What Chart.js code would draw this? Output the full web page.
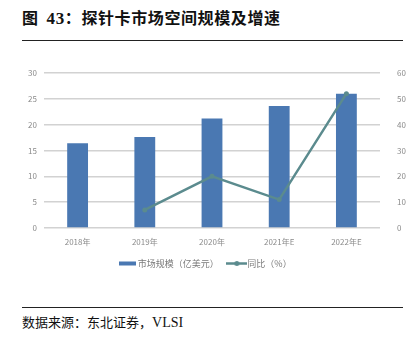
<!DOCTYPE html>
<html>
<head>
<meta charset="utf-8">
<script src="https://cdn.jsdelivr.net/npm/chart.js@4/dist/chart.umd.min.js"></script>
<style>
  html, body { margin: 0; padding: 0; background: #fff; }
  body { width: 413px; height: 340px; position: relative; overflow: hidden; }
  .title {
    position: absolute; left: 22px; top: 6px;
    font-family: "Noto Sans CJK SC", sans-serif; font-weight: bold;
    font-size: 16px; letter-spacing: 0.6px; color: #111; white-space: nowrap; line-height: 22px;
  }
  .title .num { font-family: "Liberation Serif", serif; font-weight: bold; font-size: 17px; margin-left: 8px; }
  .rule { position: absolute; left: 22px; width: 381px; height: 1px; background: #222; }
  .source {
    position: absolute; left: 22px; top: 313px;
    font-family: "Noto Sans CJK SC", sans-serif; font-size: 13px; color: #111;
    white-space: nowrap; line-height: 18px;
  }
  .source .lat { font-family: "Liberation Serif", serif; font-size: 14px; }
  #wrap { position: absolute; left: 0; top: 50px; width: 413px; height: 234px; }
</style>
</head>
<body>
<div class="title">图<span class="num">43</span>：探针卡市场空间规模及增速</div>
<div class="rule" style="top:40px"></div>
<div id="wrap"><canvas id="chart"></canvas></div>
<div class="rule" style="top:307px"></div>
<div class="source">数据来源：东北证券，<span class="lat">VLSI</span></div>

<script>
// Years on the category axis
const years = ['2018年', '2019年', '2020年', '2021年E', '2022年E'];
// Probe card market size, USD 100 million (left axis)
const marketSize = [16.4, 17.6, 21.2, 23.6, 26.0];
// Year-on-year growth, % (right axis); no value for the first year
const growthPct = [null, 7, 20, 11, 52];

const seriesNames = ['市场规模（亿美元）', '同比（%）'];
const barColor = '#4a78b2';
const lineColor = '#5b8b8e';
const tickColor = '#8a8a8a';
const gridColor = '#d2d2d2';
const labelFont = { family: '"Noto Sans CJK SC", sans-serif', size: 8 };

// Small legend swatches: a flat bar and a line with a dot
function barSwatch() {
  const c = document.createElement('canvas');
  c.width = 17; c.height = 5;
  const g = c.getContext('2d');
  g.fillStyle = barColor;
  g.fillRect(0, 0.5, 17, 4);
  return c;
}
function lineSwatch() {
  const c = document.createElement('canvas');
  c.width = 21; c.height = 7;
  const g = c.getContext('2d');
  g.strokeStyle = lineColor; g.lineWidth = 2.5;
  g.beginPath(); g.moveTo(0, 3.5); g.lineTo(21, 3.5); g.stroke();
  g.fillStyle = lineColor;
  g.beginPath(); g.arc(10.5, 3.5, 2.5, 0, Math.PI * 2); g.fill();
  return c;
}

new Chart(document.getElementById('chart'), {
  data: {
    labels: years,
    datasets: [
      {
        type: 'bar',
        label: seriesNames[0],
        data: marketSize,
        backgroundColor: barColor,
        yAxisID: 'y',
        order: 1,
        barPercentage: 0.31,
        categoryPercentage: 1.0
      },
      {
        type: 'line',
        label: seriesNames[1],
        data: growthPct,
        borderColor: lineColor,
        backgroundColor: lineColor,
        borderWidth: 2.5,
        pointRadius: 2.5,
        pointHoverRadius: 2.5,
        pointBackgroundColor: lineColor,
        pointBorderWidth: 0,
        tension: 0,
        yAxisID: 'y1',
        order: 0
      }
    ]
  },
  options: {
    responsive: true,
    maintainAspectRatio: false,
    animation: false,
    layout: { padding: { top: 23, left: 0, right: 0, bottom: 6 } },
    plugins: {
      tooltip: { enabled: false },
      legend: {
        position: 'bottom',
        labels: {
          font: { family: '"Noto Sans CJK SC", sans-serif', size: 9 },
          color: '#7a7a7a',
          usePointStyle: true,
          pointStyleWidth: 12,
          boxHeight: 7,
          padding: 12,
          sort: (a, b) => a.datasetIndex - b.datasetIndex,
          generateLabels(chart) {
            const items = Chart.defaults.plugins.legend.labels.generateLabels(chart);
            items.forEach(it => {
              it.pointStyle = it.datasetIndex === 0 ? barSwatch() : lineSwatch();
            });
            return items;
          }
        }
      }
    },
    scales: {
      x: {
        offset: true,
        grid: { display: false, drawTicks: false },
        border: { display: false },
        ticks: { color: tickColor, font: labelFont, padding: 9, maxRotation: 0 },
        afterFit(scale) { scale.height = 19; }
      },
      y: {
        position: 'left',
        min: 0, max: 30,
        ticks: { stepSize: 5, color: tickColor, font: labelFont, padding: 7 },
        grid: { color: gridColor, lineWidth: 1.5, drawTicks: false },
        border: { display: false },
        afterFit(scale) { scale.width = 44; }
      },
      y1: {
        position: 'right',
        min: 0, max: 60,
        ticks: { stepSize: 10, color: tickColor, font: labelFont, padding: 9 },
        grid: { display: false },
        border: { display: false },
        afterFit(scale) { scale.width = 33; }
      }
    }
  }
});
</script>
</body>
</html>
